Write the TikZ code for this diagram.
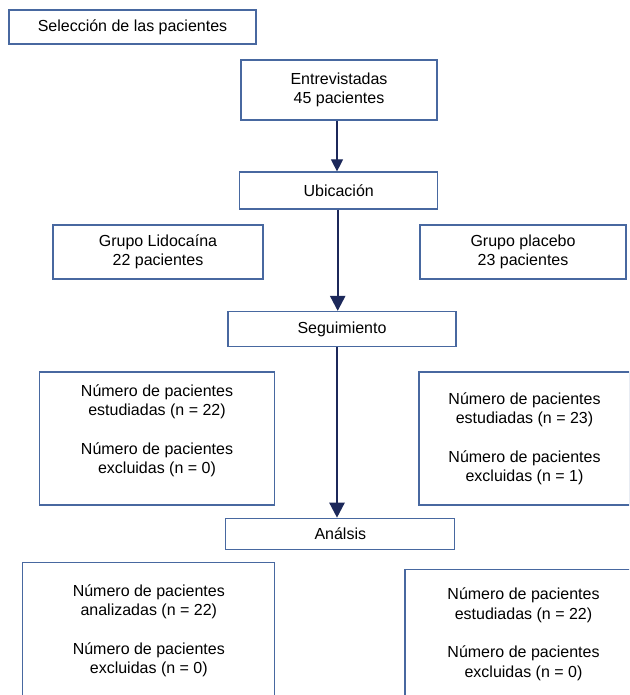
\documentclass[tikz,border=0pt]{standalone}
\usepackage{fontspec}
\setmainfont{Liberation Sans}
\usetikzlibrary{arrows.meta}
\definecolor{boxblue}{RGB}{72,104,160}
\definecolor{arrownavy}{RGB}{28,40,90}
\tikzset{%
    box/.style={rectangle, draw=boxblue, line width=1.2pt, align=center, inner sep=0pt,
        font=\fontsize{16}{19.3}\selectfont},
    arrow/.style={draw=arrownavy, line width=1.1pt, -{Triangle[width=12pt, length=12pt]}},
    thickarrow/.style={draw=arrownavy, line width=2.4pt, -{Triangle[width=15pt, length=15pt]}}
}

\begin{document}
\begin{tikzpicture}[x=1pt, y=-1pt]
            \clip (0,0) rectangle (629,695);
            \node[box, minimum width=247pt, minimum height=34pt] (sel) at (132.5,27) {Selección de las pacientes};
            \node[box, minimum width=196pt, minimum height=60pt] (entrev) at (339,90) {Entrevistadas\\45 pacientes};
            \node[box, minimum width=198pt, minimum height=37pt] (ubic) at (338.7,190.5) {Ubicación};
            \node[box, minimum width=210pt, minimum height=54pt] (lido) at (158,252) {Grupo Lidocaína\\22 pacientes};
            \node[box, minimum width=206pt, minimum height=54pt] (plac) at (523,252) {Grupo placebo\\23 pacientes};
            \node[box, minimum width=228pt, minimum height=35pt] (segu) at (342,329) {Seguimiento};
            \node[box, minimum width=235pt, minimum height=133pt] (estlido) at (157,438.5)
                {Número de pacientes\\estudiadas (n = 22)\\[19.3pt]Número de pacientes\\excluidas (n = 0)\\\mbox{}};
            \node[box, minimum width=211pt, minimum height=133pt] (estplac) at (524.5,438.5)
                {Número de pacientes\\estudiadas (n = 23)\\[19.3pt]Número de pacientes\\excluidas (n = 1)};
            \node[box, minimum width=229pt, minimum height=31pt] (anal) at (340.3,533.8) {Análsis};
            \node[box, minimum width=252pt, minimum height=137pt] (analido) at (148.8,630.6)
                {Número de pacientes\\analizadas (n = 22)\\[19.3pt]Número de pacientes\\excluidas (n = 0)};
            \node[box, minimum width=237pt, minimum height=129pt] (analplac) at (523.5,634.3)
                {Número de pacientes\\estudiadas (n = 22)\\[19.3pt]Número de pacientes\\excluidas (n = 0)};
            % flujo principal
            \draw[arrow] ([xshift=-2pt]entrev.south) -- ([xshift=-2pt]entrev.south |- ubic.north);
            \draw[thickarrow] ([xshift=-1pt]ubic.south) -- ([xshift=-1pt]ubic.south |- segu.north);
            \draw[thickarrow] ([xshift=-5pt]segu.south) -- ([xshift=-5pt]segu.south |- anal.north);
        \end{tikzpicture}
\end{document}
